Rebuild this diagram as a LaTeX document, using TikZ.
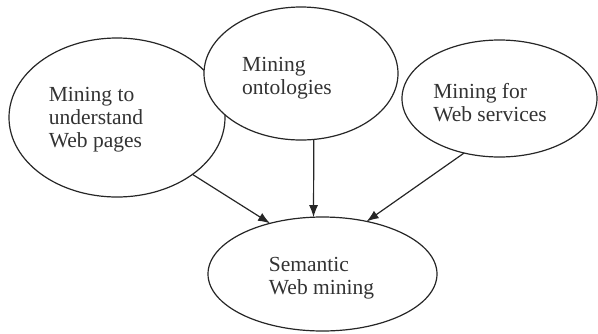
\documentclass[tikz,border=0pt]{standalone}
\usepackage{fontspec}
\setmainfont{Liberation Serif}
\usetikzlibrary{shapes.geometric,arrows.meta}
\begin{document}
\begin{tikzpicture}[x=1pt,y=-1pt,
  oval/.style={draw=black!85,fill=white,line width=1.2pt,ellipse,inner sep=0pt,outer sep=0pt},
  lbl/.style={align=left,inner sep=0pt,text=black!80,font=\fontsize{21.5}{23}\selectfont},
  arr/.style={draw=black!85,line width=1.2pt,-{Latex[length=12pt,width=9pt]}}]
\useasboundingbox (0,0) rectangle (598,333);
\node[oval,minimum width=216pt,minimum height=159pt] (L) at (117,117.5) {};
\node[oval,minimum width=194pt,minimum height=133pt] (M) at (301,73.5) {};
\node[oval,minimum width=195pt,minimum height=117pt] (R) at (499.5,98.5) {};
\node[oval,minimum width=229pt,minimum height=114pt] (B) at (322.5,274) {};
\node[lbl] (tL) at (96,120) {Mining to\\understand\\Web pages};
\node[lbl] (tM) at (287,78.5) {Mining\\ontologies};
\node[lbl] (tR) at (490,102.5) {Mining for\\Web services};
\node[lbl] (tB) at (321.5,278.5) {Semantic\\Web mining};
\draw[arr] (L.-37.5) -- (B.136.3);
\draw[arr] (M.-79.8) -- (B.99.5);
\draw[arr] (R.-123.6) -- (B.50);
\end{tikzpicture}
\end{document}
